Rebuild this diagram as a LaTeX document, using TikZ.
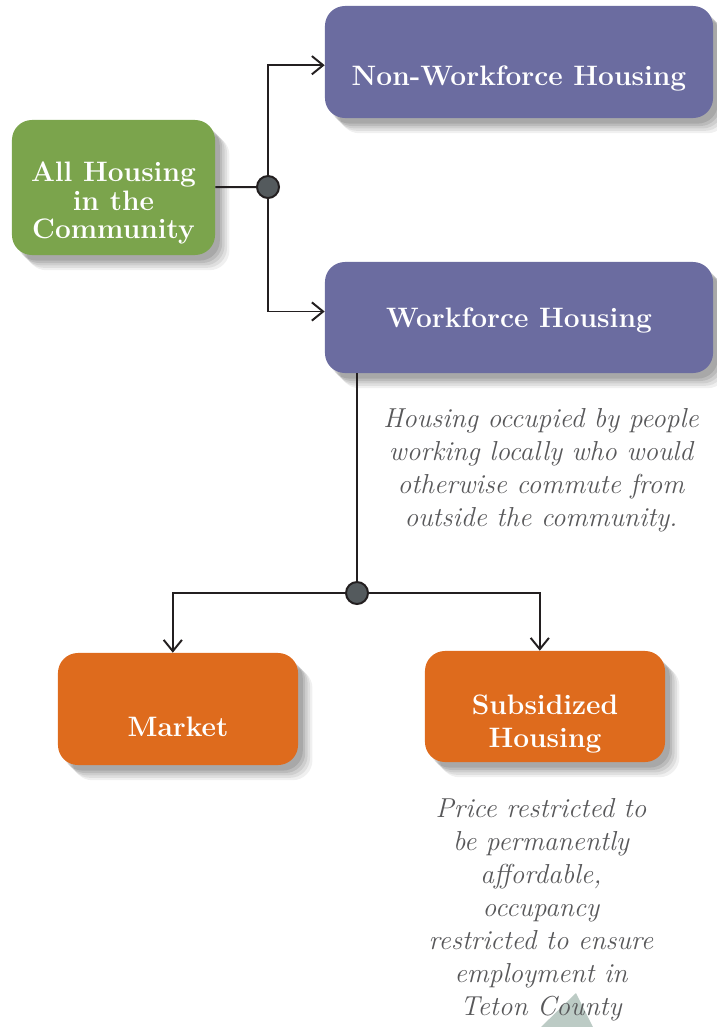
\documentclass[tikz,border=0pt]{standalone}
\usetikzlibrary{shadows,arrows.meta}

\definecolor{grassgreen}{HTML}{7BA44C}
\definecolor{slatepurple}{HTML}{6B6CA0}
\definecolor{rustorange}{HTML}{DE6B1D}
\definecolor{dotgray}{HTML}{545A5D}
\definecolor{notegray}{HTML}{58585A}
\definecolor{linedark}{HTML}{231F20}
\definecolor{hintgreen}{HTML}{BCCBC5}

\tikzset{
  housebox/.style={rectangle, rounded corners=0.5cm, inner sep=0pt,
    drop shadow={shadow xshift=0.36cm, shadow yshift=-0.38cm, opacity=0.06, fill=black},
    drop shadow={shadow xshift=0.30cm, shadow yshift=-0.32cm, opacity=0.07, fill=black},
    drop shadow={shadow xshift=0.24cm, shadow yshift=-0.26cm, opacity=0.08, fill=black},
    drop shadow={shadow xshift=0.18cm, shadow yshift=-0.20cm, opacity=0.09, fill=black},
    drop shadow={shadow xshift=0.12cm, shadow yshift=-0.14cm, opacity=0.10, fill=black}},
  boxlabel/.style={text=white, align=center, font=\fontsize{20}{20}\selectfont\bfseries},
  notelabel/.style={text=notegray, align=center, font=\fontsize{19.5}{23.5}\selectfont\itshape},
  joint/.style={circle, draw=linedark, fill=dotgray, line width=1.4pt,
    inner sep=0pt, minimum size=0.55cm},
  link/.style={draw=linedark, line width=1.4pt},
  linkarrow/.style={link, -{Straight Barb[length=8pt, width=13pt, line width=1.4pt]}}
}

\begin{document}
\begin{tikzpicture}[x=0.025cm, y=-0.025cm]
\useasboundingbox (0,0) rectangle (717,1027);

% boxes
\node[housebox, fill=grassgreen,
	minimum width = 5.075cm,
	minimum height = 3.375cm] (all) at (113.5,187.5) {};
\node[housebox, fill=slatepurple,
	minimum width = 9.7cm,
	minimum height = 2.8cm] (nonwf) at (519,62) {};
\node[housebox, fill=slatepurple,
	minimum width = 9.7cm,
	minimum height = 2.775cm] (wf) at (519,317.5) {};
\node[housebox, fill=rustorange,
	minimum width = 6cm,
	minimum height = 2.8cm] (market) at (178,709) {};
\node[housebox, fill=rustorange,
	minimum width = 6cm,
	minimum height = 2.775cm] (subsid) at (545,706.5) {};

% labels
\node[boxlabel] (alltext) at (113.5,203) {All Housing\\in the\\Community};
\node[boxlabel] (nonwftext) at (519,78) {Non-Workforce Housing};
\node[boxlabel] (wftext) at (519,320) {Workforce Housing};
\node[boxlabel] (markettext) at (178,727) {Market};
\node[boxlabel, font=\fontsize{20}{24}\selectfont\bfseries] (subsidtext) at (545,724) {Subsidized\\Housing};

% joints
\node[joint] (dot1) at (268,187) {};
\node[joint] (dot2) at (357,593) {};

% connectors
\draw[link] (all) -- (dot1);
\draw[linkarrow] (dot1) |- ([yshift=-0.08cm]nonwf.west);
\draw[linkarrow] (dot1) |- ([yshift=0.15cm]wf.west);
\draw[link] (wf.south -| dot2) -- (dot2);
\draw[linkarrow] (dot2) -| ([xshift=-0.13cm]market.north);
\draw[linkarrow] (dot2) -| ([xshift=-0.13cm]subsid.north);

% notes
\fill[hintgreen] (541,1027) -- (576,993) -- (593,1027) -- cycle;
\node[notelabel] (wfnote) at (541,470) {Housing occupied by people\\working locally who would\\otherwise commute from\\outside the community.};
\node[notelabel] (subsidnote) at (541,910) {Price restricted to\\be permanently\\affordable,\\occupancy\\restricted to ensure\\employment in\\Teton County};
\end{tikzpicture}
\end{document}
